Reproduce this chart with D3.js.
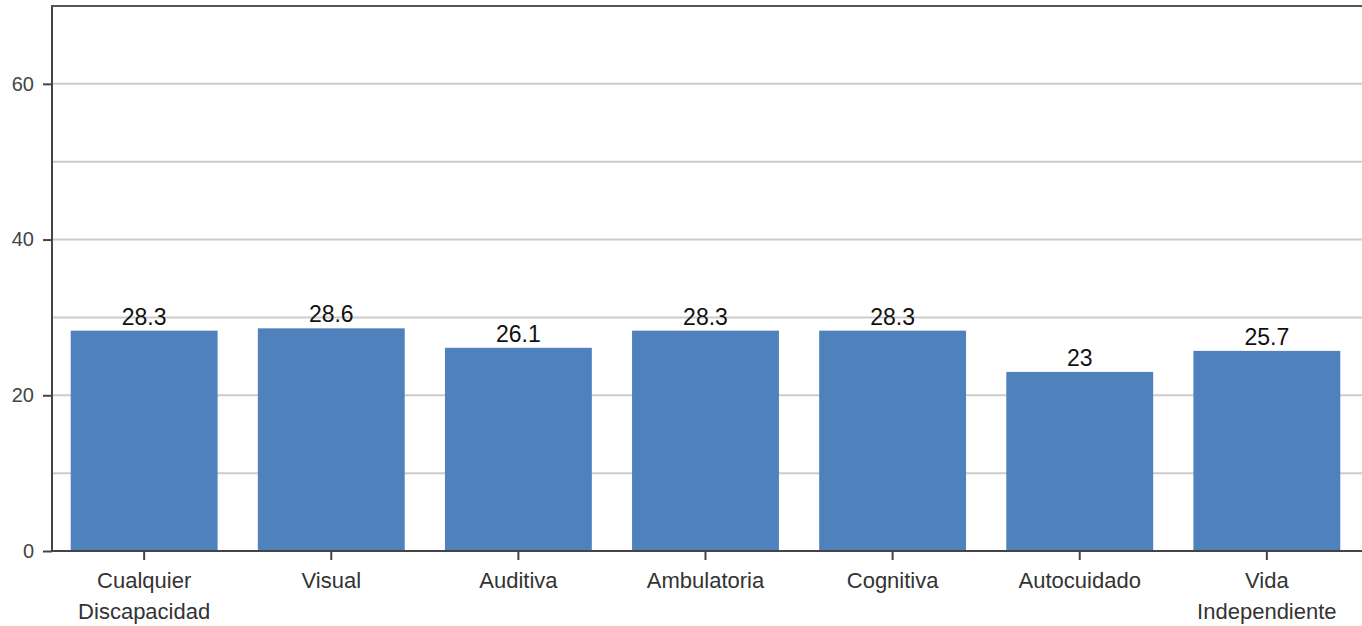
<!DOCTYPE html>
<html>
<head>
<meta charset="utf-8">
<script src="https://cdn.jsdelivr.net/npm/d3@7"></script>
<style>
  body { margin: 0; background: #fff; }
  text { font-family: "Liberation Sans", Arial, sans-serif; }
</style>
</head>
<body>
<svg id="chart" width="1362" height="626"></svg>
<script>
// data
const categories = ["Cualquier Discapacidad", "Visual", "Auditiva", "Ambulatoria", "Cognitiva", "Autocuidado", "Vida Independiente"];
const labelLines = [["Cualquier", "Discapacidad"], ["Visual"], ["Auditiva"], ["Ambulatoria"], ["Cognitiva"], ["Autocuidado"], ["Vida", "Independiente"]];
const values = [28.3, 28.6, 26.1, 28.3, 28.3, 23, 25.7];
const yTicks = [0, 20, 40, 60];
const gridTicks = [10, 20, 30, 40, 50, 60];

const width = 1362, height = 626;
const margin = {top: 6, right: 0, bottom: 75, left: 52};

const svg = d3.select("#chart");

let x = d3.scaleBand()
    .domain(categories)
    .range([margin.left, width - 3])
    .paddingInner(0.215)
    .paddingOuter(0.1);

let y = d3.scaleLinear()
    .domain([0, 70])
    .range([height - margin.bottom, margin.top]);

/*
 *  Gridlines
 */
svg.append("g")
    .selectAll("line")
    .data(gridTicks)
    .join("line")
    .attr("x1", margin.left)
    .attr("x2", width)
    .attr("y1", d => y(d))
    .attr("y2", d => y(d))
    .attr("stroke", "#cccccc")
    .attr("stroke-width", 2);

/*
 *  Bars
 */
svg.append("g")
    .selectAll("rect")
    .data(values)
    .join("rect")
    .attr("x", (d, i) => x(categories[i]))
    .attr("y", d => y(d))
    .attr("width", x.bandwidth())
    .attr("height", d => y(0) - y(d))
    .attr("fill", "#4f81bd");

svg.append("g")
    .selectAll("text")
    .data(values)
    .join("text")
    .attr("x", (d, i) => x(categories[i]) + x.bandwidth() / 2)
    .attr("y", d => y(d) - 6)
    .attr("text-anchor", "middle")
    .attr("font-size", 23)
    .attr("fill", "#111")
    .text(d => d);

/*
 *  Axes
 */
let yAxis = svg.append("g")
    .attr("transform", "translate(" + margin.left + ",0)")
    .call(d3.axisLeft(y).tickValues(yTicks).tickSize(9).tickPadding(9));

yAxis.select(".domain").remove();
yAxis.selectAll(".tick line").attr("stroke", "#444").attr("stroke-width", 2);
yAxis.selectAll(".tick text")
    .attr("font-size", 20)
    .attr("fill", "#444")
    .style("font-family", "Liberation Sans, Arial, sans-serif");

let xAxis = svg.append("g")
    .attr("transform", "translate(0," + y(0) + ")")
    .call(d3.axisBottom(x).tickSize(9).tickFormat(""));

xAxis.select(".domain").remove();
xAxis.selectAll(".tick line").attr("stroke", "#444").attr("stroke-width", 2);

xAxis.selectAll(".tick")
    .append("text")
    .attr("text-anchor", "middle")
    .attr("fill", "#333")
    .attr("font-size", 22)
    .style("font-family", "Liberation Sans, Arial, sans-serif")
    .selectAll("tspan")
    .data((d, i) => labelLines[categories.indexOf(d)])
    .join("tspan")
    .attr("x", 0)
    .attr("y", (d, i) => 37 + i * 31)
    .text(d => d);

// frame lines: left, top, bottom
svg.append("line")
    .attr("x1", margin.left).attr("x2", margin.left)
    .attr("y1", margin.top).attr("y2", y(0))
    .attr("stroke", "#444").attr("stroke-width", 2);

svg.append("line")
    .attr("x1", margin.left - 1).attr("x2", width)
    .attr("y1", margin.top).attr("y2", margin.top)
    .attr("stroke", "#555").attr("stroke-width", 2);

svg.append("line")
    .attr("x1", margin.left - 1).attr("x2", width)
    .attr("y1", y(0)).attr("y2", y(0))
    .attr("stroke", "#444").attr("stroke-width", 2);
</script>
</body>
</html>
